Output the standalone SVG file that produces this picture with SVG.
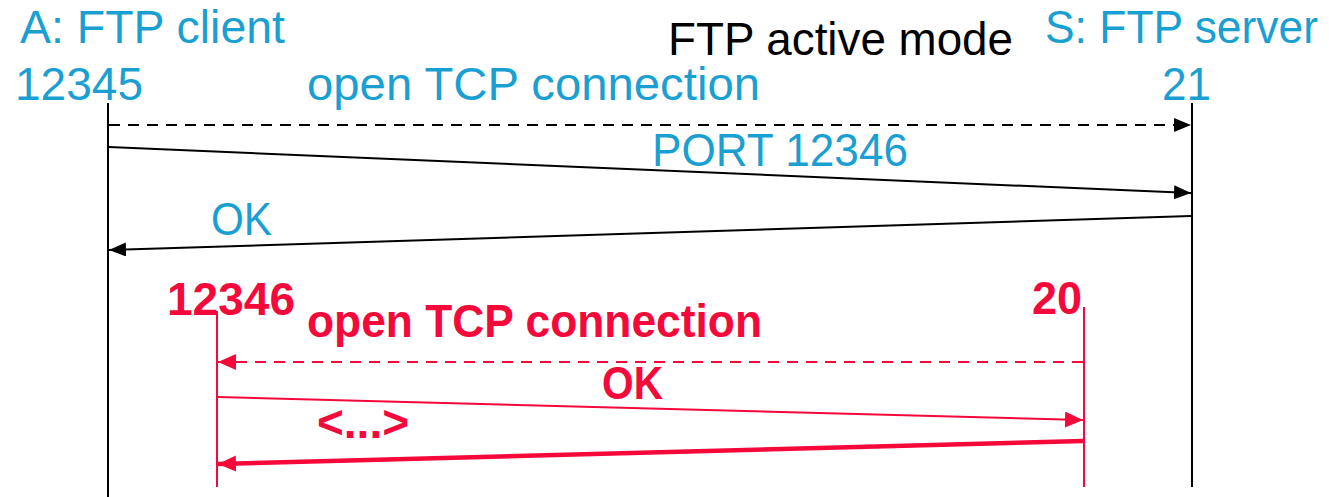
<svg xmlns="http://www.w3.org/2000/svg" width="1329" height="497" viewBox="0 0 1329 497">
<style>
.t{font-family:"Liberation Sans","Open Sans",sans-serif;font-size:46px;}
.blue{fill:#1a9fd3;}
.red{fill:#f5083a;font-weight:bold;}
.blk{fill:#000;}
.lb{stroke:#000;stroke-width:2;fill:none;}
.lr{stroke:#f5083a;stroke-width:2;fill:none;}
.dash{stroke-dasharray:11 8;}
</style>
<defs>
<marker id="ab" markerUnits="userSpaceOnUse" markerWidth="18" markerHeight="16" refX="17" refY="7" orient="auto"><path d="M0,0 L17,7 L0,14 z" fill="#000"/></marker>
<marker id="ar" markerUnits="userSpaceOnUse" markerWidth="20" markerHeight="18" refX="18" refY="8" orient="auto"><path d="M0,0 L18,8 L0,16 z" fill="#f5083a"/></marker>
</defs>
<rect width="1329" height="497" fill="#fff"/>
<text class="t blk" x="668" y="55" textLength="345" lengthAdjust="spacingAndGlyphs">FTP active mode</text>
<g id="client">
<text class="t blue" x="20" y="43" textLength="265" lengthAdjust="spacingAndGlyphs">A: FTP client</text>
<text class="t blue" x="15" y="100" textLength="128" lengthAdjust="spacingAndGlyphs">12345</text>
<line class="lb" x1="108" y1="103" x2="108" y2="497"/>
</g>
<g id="server">
<text class="t blue" x="1045" y="43" textLength="273" lengthAdjust="spacingAndGlyphs">S: FTP server</text>
<text class="t blue" x="1162" y="100" textLength="49" lengthAdjust="spacingAndGlyphs">21</text>
<line class="lb" x1="1192" y1="103" x2="1192" y2="487"/>
</g>
<g id="client-data">
<text class="t red" x="167" y="315" textLength="128" lengthAdjust="spacingAndGlyphs">12346</text>
<line class="lr" x1="217" y1="311" x2="217" y2="487"/>
</g>
<g id="server-data">
<text class="t red" x="1032" y="314" textLength="50" lengthAdjust="spacingAndGlyphs">20</text>
<line class="lr" x1="1084" y1="307" x2="1084" y2="487"/>
</g>
<g id="connectors">
<line class="lb dash" x1="109" y1="125" x2="1191" y2="125" marker-end="url(#ab)"/>
<text class="t blue" x="307" y="100" textLength="453" lengthAdjust="spacingAndGlyphs">open TCP connection</text>
<line class="lb" x1="109" y1="147" x2="1191" y2="193" marker-end="url(#ab)"/>
<text class="t blue" x="652" y="166" textLength="256" lengthAdjust="spacingAndGlyphs">PORT 12346</text>
<line class="lb" x1="1191" y1="216" x2="109" y2="250" marker-end="url(#ab)"/>
<text class="t blue" x="211" y="235" textLength="61" lengthAdjust="spacingAndGlyphs">OK</text>
<line class="lr dash" x1="1083" y1="362" x2="218" y2="362" marker-end="url(#ar)"/>
<text class="t red" x="307" y="337" textLength="455" lengthAdjust="spacingAndGlyphs">open TCP connection</text>
<line class="lr" x1="218" y1="397" x2="1083" y2="420" marker-end="url(#ar)"/>
<text class="t red" x="602" y="399" textLength="61" lengthAdjust="spacingAndGlyphs">OK</text>
<line class="lr" style="stroke-width:4.5" x1="1083" y1="441" x2="218" y2="464" marker-end="url(#ar)"/>
<text class="t red" x="317" y="438" textLength="92" lengthAdjust="spacingAndGlyphs">&lt;...&gt;</text>
</g>
</svg>
